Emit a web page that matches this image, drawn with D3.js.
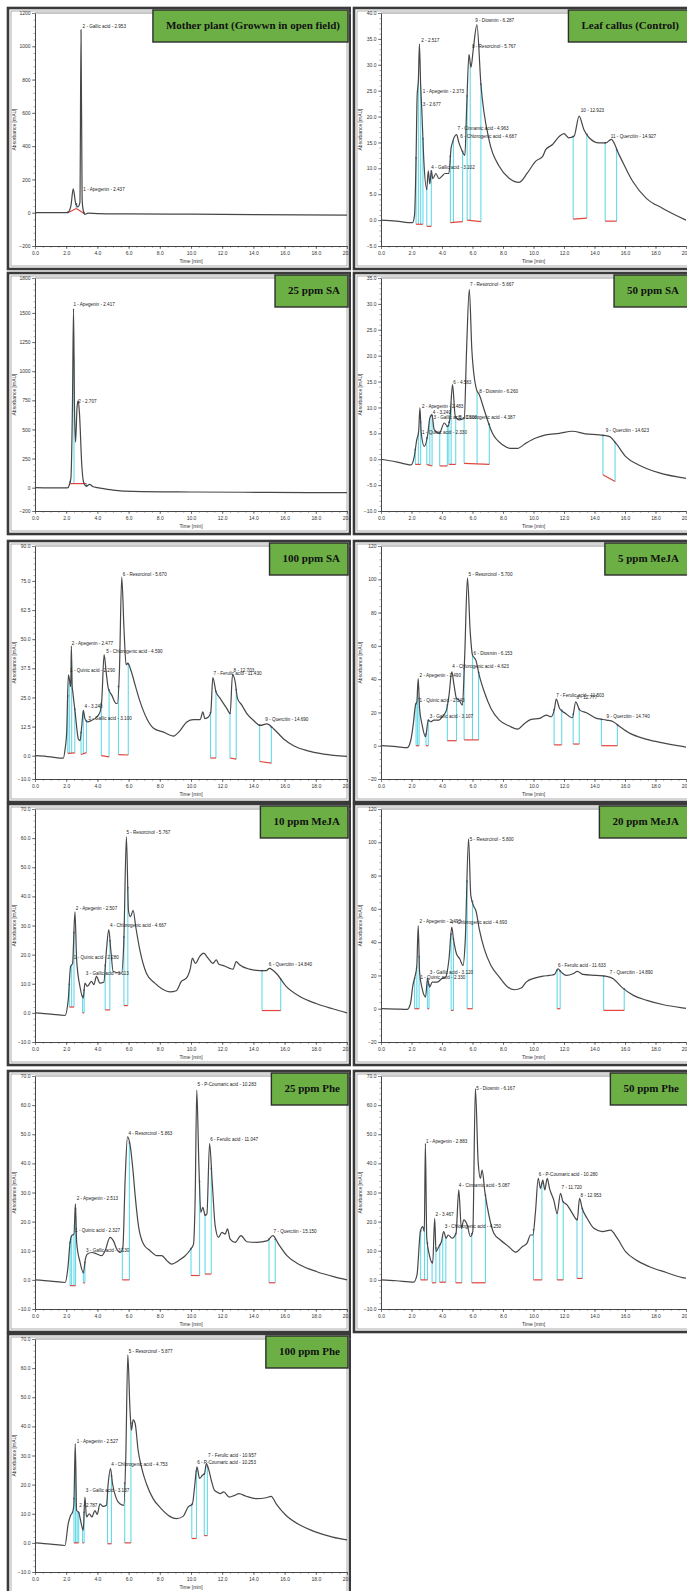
<!DOCTYPE html>
<html lang="en">
<head>
<meta charset="UTF-8">
<title>HPLC chromatograms</title>
<style>
  body { margin: 0; padding: 0; background: #fff; }
  svg { display: block; }
</style>
</head>
<body>
<script src="https://d3js.org/d3.v7.min.js"></script>
<script>
// panel titles (left/right, row by row)
const titles = ['Mother plant (Growwn in open field)', 'Leaf callus (Control)', '25 ppm SA', '50 ppm SA',
  '100 ppm SA', '5 ppm MeJA', '10 ppm MeJA', '20 ppm MeJA', '25 ppm Phe', '50 ppm Phe', '100 ppm Phe'];

// y tick labels per panel (first = axis min, last = axis max)
const yTicks = [
  [-200, 0, 200, 400, 600, 800, 1000, 1200],
  [-5, 0, 5, 10, 15, 20, 25, 30, 35, 40],
  [-200, 0, 250, 500, 750, 1000, 1250, 1500, 1800],
  [-10, -5, 0, 5, 10, 15, 20, 25, 30, 35],
  [-10, 0, 12.5, 25, 37.5, 50, 62.5, 75, 90],
  [-20, 0, 20, 40, 60, 80, 100, 120],
  [-10, 0, 10, 20, 30, 40, 50, 60, 70],
  [-20, 0, 20, 40, 60, 80, 100, 120],
  [-10, 0, 10, 20, 30, 40, 50, 60, 70],
  [-10, 0, 10, 20, 30, 40, 50, 60, 70],
  [-10, 0, 10, 20, 30, 40, 50, 60, 70]
];
const yDecimals = [0, 1, 0, 1, 1, 0, 1, 0, 1, 1, 1];
const xTicks = [0, 2, 4, 6, 8, 10, 12, 14, 16, 18, 20];

// chromatograms: [time (min), absorbance (mAU)]
const motherPlant = [[0,0],[1,0],[2,0],[2.1,2],[2.3,40],[2.45,143],[2.6,60],[2.75,35],[2.88,60],[2.95,1100],[3.02,80],
  [3.1,10],[3.2,-10],[3.4,-3],[4,-5],[6,-7],[10,-9],[14,-11],[20,-14]];
const leafCallus = [[0,0],[1,-0.2],[2.07,-0.5],[2.2,1],[2.3,12],[2.37,24],[2.45,27],[2.52,34],[2.6,26],[2.68,21],[2.8,12],
  [3,6],[3.1,9.5],[3.2,7],[3.3,9.5],[3.4,8],[3.6,9],[3.8,8],[4,8.5],[4.2,9],[4.45,9],[4.6,14],[4.69,15],[4.8,16],[4.96,16.5],
  [5.1,15],[5.3,13.5],[5.5,12.5],[5.62,22],[5.77,32],[5.9,29.5],[6.05,33],[6.29,37.7],[6.55,26.3],[7.1,15.3],[7.75,10.4],
  [8.4,8.1],[9.06,7.3],[9.6,9.1],[10.15,11.4],[10.6,12.3],[10.8,13.6],[11.25,14.6],[11.7,16.2],[12,16.7],[12.3,15.9],
  [12.66,16.2],[12.99,20.1],[13.3,17.5],[13.65,15.9],[14.3,14.9],[14.74,14.9],[15.1,15.6],[15.6,12.7],[16.5,7.5],
  [17.4,4.2],[18.45,2.3],[20,0]];
const sa25 = [[0,0],[1,-2],[2,-2],[2.12,0],[2.2,25],[2.3,80],[2.4,700],[2.47,1537],[2.53,700],[2.6,390],[2.7,700],
  [2.77,747],[2.85,640],[3,190],[3.12,45],[3.3,14],[3.5,29],[3.7,10],[4,0],[5,-20],[6.3,-32],[10,-37],[15,-40],[20,-43]];
const sa50 = [[0,0],[1,-0.5],[1.97,-1.1],[2.18,0.5],[2.34,3.7],[2.47,5.4],[2.55,9.9],[2.64,5],[2.84,2.5],[3.06,4.7],
  [3.2,7.9],[3.34,8.6],[3.49,5.7],[3.82,5],[4.15,7],[4.37,6.3],[4.52,7.9],[4.69,14.4],[4.87,8.3],[5.13,7.6],[5.46,7.9],
  [5.61,21],[5.79,32.8],[5.96,21],[6.27,13.4],[6.44,12.5],[6.77,9.5],[7.31,5],[7.97,2.8],[8.52,2.1],[8.95,2.1],[9.5,3.1],
  [10.15,4.1],[10.8,4.7],[11.7,5],[12.55,5.4],[13.4,4.9],[14.3,4.7],[14.96,4.4],[15.4,3.1],[16.05,0.5],[16.9,-1.1],
  [18.2,-2.6],[20,-3.7]];
const sa100 = [[0,0],[1,-0.5],[1.6,-1],[1.82,-1],[1.93,2.9],[2.03,10],[2.14,34.7],[2.2,33],[2.29,29.6],[2.33,47],
  [2.38,30],[2.42,27.5],[2.57,18.8],[2.78,7.2],[2.89,6.5],[3,13],[3.1,19.5],[3.2,15.9],[3.36,14.5],[3.64,15.2],[3.96,16.6],
  [4.17,18.8],[4.28,23.8],[4.43,43.4],[4.56,36],[4.7,28.9],[4.92,26],[5.2,22.4],[5.28,22.4],[5.41,36],[5.56,76.6],
  [5.71,53.5],[5.84,39],[5.95,39.7],[6.14,36.8],[6.42,30.3],[6.74,23.1],[7.17,15.9],[7.6,11.8],[8.24,10.1],[8.88,8.4],
  [9.3,10.8],[9.73,14.5],[10.16,15.5],[10.59,15.5],[10.76,18.8],[10.89,15.9],[11.12,16.6],[11.27,18.8],[11.4,33.5],
  [11.6,27.5],[11.87,24.6],[12.3,20.2],[12.51,18.1],[12.66,34.7],[12.83,31.8],[12.98,24.6],[13.26,21.7],[13.58,18.1],
  [14,15.2],[14.44,13],[14.87,13.7],[15.29,11.6],[15.94,7.2],[16.58,4.3],[17.43,2.2],[18.5,0.7],[20,-0.3]];
const meja5 = [[0,0],[1,-0.6],[1.71,-1.2],[1.93,2.4],[2.11,12.4],[2.26,24.4],[2.35,26.4],[2.44,40.4],[2.53,22.4],
  [2.7,12.4],[2.92,5.4],[3.1,15.4],[3.25,14.4],[3.47,15.4],[3.8,15.4],[4.02,17.4],[4.29,21.4],[4.46,30.4],[4.64,44.4],
  [4.79,36.4],[4.95,28.4],[5.12,27.4],[5.34,24.4],[5.49,54.4],[5.67,100.8],[5.85,68.4],[6,54.4],[6.22,51.4],[6.44,42.4],
  [6.77,32.4],[7.21,22.4],[7.76,15.4],[8.42,11.8],[8.97,10],[9.41,13.4],[9.85,15.8],[10.4,16.4],[10.84,18.4],[11.16,17.4],
  [11.38,22.4],[11.49,28],[11.71,22.4],[12.1,19.4],[12.55,16.8],[12.77,26.4],[13.03,21.4],[13.47,19.8],[14.13,16.4],
  [14.79,15.4],[15.23,14.4],[15.67,11.4],[16.33,7.4],[17.2,4.4],[18.3,2],[19.85,-0.6],[20,-0.8]];
const meja10 = [[0,0],[1,-0.4],[1.92,-0.9],[2.13,4.5],[2.28,15.9],[2.41,17],[2.56,34.7],[2.67,18.2],[2.88,9.1],[3.09,5.1],
  [3.2,10.2],[3.35,9.1],[3.62,10.8],[3.77,9.7],[3.94,12.5],[4.16,10.2],[4.41,10.5],[4.58,21.6],[4.73,28.6],[4.86,21.6],
  [5.01,14.2],[5.54,13.6],[5.69,23.9],[5.86,60.5],[5.99,35.2],[6.12,33],[6.29,35.2],[6.46,29.5],[6.72,21.6],[7.14,13.6],
  [7.68,10.2],[8.21,8],[8.64,7.2],[9.06,7.6],[9.38,10.8],[9.7,11.9],[9.96,15.3],[10.09,18.8],[10.28,17],[10.55,19.3],
  [10.81,20.5],[11.09,18.8],[11.41,17],[11.62,18.2],[11.77,16.8],[12.15,16.1],[12.47,15.3],[12.69,15],[12.9,17.6],
  [13.11,16.5],[13.75,15],[14.39,14.5],[14.82,14.5],[15.03,15.3],[15.46,13.6],[16.1,9.1],[16.95,5.7],[18.02,3.2],
  [19.08,1.4],[20,0]];
const meja20 = [[0,0],[1,-0.2],[1.71,-0.4],[1.93,3],[2.09,14],[2.22,19],[2.35,26],[2.44,50],[2.53,22],[2.7,12],[2.92,7],
  [3.05,18],[3.19,13],[3.36,16],[3.69,16],[3.98,18],[4.24,19],[4.46,30],[4.64,49],[4.75,42],[4.95,33],[5.16,30],[5.38,26],
  [5.52,40],[5.74,102],[5.89,68],[6.11,61],[6.22,59],[6.44,48],[6.77,36],[7.21,26],[7.76,19],[8.31,13],[8.75,11.4],
  [9.19,12.4],[9.52,16],[10.07,18.4],[10.62,19.6],[11.05,20],[11.38,20.6],[11.6,24],[11.82,22],[12.15,20],[12.59,21],
  [12.88,22.4],[13.25,20.6],[14.13,20],[14.79,19.4],[15.23,18],[15.78,13],[16.55,8],[17.43,5],[18.53,2.4],[19.85,0.4],
  [20,0.2]];
const phe25 = [[0,0],[1,-0.4],[1.93,-0.9],[2.1,3.7],[2.25,12.9],[2.35,15.2],[2.5,15.7],[2.59,26.1],[2.67,12.9],[2.89,6],
  [3.1,2.5],[3.23,7.1],[3.36,8.9],[3.64,9.4],[3.96,8.9],[4.28,8.3],[4.49,10],[4.81,14.6],[5.03,13.4],[5.24,10.6],[5.45,9.4],
  [5.63,11.1],[5.78,34.7],[5.93,49.1],[6.1,46.2],[6.27,38.2],[6.42,29],[6.63,18.6],[6.95,12.3],[7.38,10],[7.81,8.3],
  [8.13,8.3],[8.45,6.6],[8.77,5.4],[9.2,6.6],[9.63,8.3],[9.99,10.6],[10.16,12.3],[10.27,29],[10.37,65.2],[10.5,40.5],
  [10.63,23.2],[10.76,24.9],[10.91,22.1],[11.02,22.6],[11.19,46.8],[11.36,33.6],[11.55,18.6],[11.76,14.6],[11.98,16.3],
  [12.19,15.7],[12.34,17.5],[12.51,14],[12.83,12.9],[13.2,15.2],[13.58,13.1],[14.22,12.9],[14.87,13.4],[15.25,15.2],
  [15.61,12.3],[16.15,8.3],[17,5.1],[18.07,2.8],[19.14,1.1],[20,0]];
const phe50 = [[0,0],[1,-0.3],[2.14,-0.8],[2.36,1.7],[2.58,16.6],[2.74,18.3],[2.84,16.6],[2.91,46.9],[3,14.3],[3.17,8.6],
  [3.39,5.7],[3.52,21.1],[3.61,9.7],[3.79,11.4],[3.96,13.1],[4.11,16.6],[4.27,14.3],[4.4,15.4],[4.66,14.3],[4.92,16],
  [5.1,30.9],[5.27,17.7],[5.43,20.6],[5.65,18.9],[5.86,14.9],[6.02,16.6],[6.19,65.7],[6.37,40.6],[6.52,34.9],[6.63,37.7],
  [6.81,30.3],[7.07,22.3],[7.4,16],[7.83,13.7],[8.38,11.4],[8.82,9.5],[9.26,11.4],[9.58,12.6],[9.8,15.4],[9.96,15.4],
  [10.13,23.4],[10.31,34.9],[10.46,31.4],[10.61,34.3],[10.74,30.9],[10.9,34.9],[11.05,31.4],[11.33,27.4],[11.55,22.9],
  [11.77,29.7],[11.93,26.9],[12.21,25.7],[12.54,22.9],[12.87,20.6],[13.02,28],[13.19,24.6],[13.52,21.1],[13.96,17.7],
  [14.51,16.6],[15.05,17.1],[15.49,14.3],[16.04,9.7],[16.7,6.9],[17.57,4.6],[18.67,2.6],[19.76,0.8],[20,0.6]];
const phe100 = [[0,0],[1,-0.4],[1.92,-0.9],[2.13,6.6],[2.28,9.4],[2.41,10.6],[2.49,12.9],[2.58,34.1],[2.67,11.1],
  [2.79,10.6],[2.99,6],[3.09,4.3],[3.2,15.7],[3.3,8.9],[3.48,10],[3.65,8.9],[3.84,11.1],[3.99,9.8],[4.16,13.4],[4.37,12.5],
  [4.58,12.9],[4.69,20.3],[4.84,25.5],[4.97,20.3],[5.18,15.7],[5.44,13.4],[5.69,12.9],[5.82,29.5],[5.95,64.6],[6.08,46.8],
  [6.18,38.7],[6.29,42.2],[6.42,41],[6.61,31.8],[6.82,26.1],[7.14,20.3],[7.57,15.2],[8.1,11.7],[8.64,9.1],[9.06,8.3],
  [9.49,9.1],[9.81,12.3],[10.09,13.4],[10.23,19.2],[10.38,26.1],[10.55,22.1],[10.73,23.2],[10.87,23.8],[10.98,27.2],
  [11.15,24.9],[11.3,21.5],[11.51,18],[11.66,17.5],[11.88,16.9],[12.09,17.5],[12.47,15.7],[12.79,16.3],[13.07,16.9],
  [13.54,16],[14.18,15.2],[14.82,15.5],[15.14,16],[15.46,13.4],[16.1,9.4],[16.95,6.2],[18.02,3.7],[19.08,2],[20,1]];
const traces = [motherPlant, leafCallus, sa25, sa50, sa100, meja5, meja10, meja20, phe25, phe50, phe100];

// peak labels: [time, absorbance, text]
const peakLabels = [
  [[3.1, 143, '1 - Apegenin - 2.437'], [3.05, 1120, '2 - Gallic acid - 2.953']],
  [[2.64, 34.7, '2 - 2.517'], [2.73, 24.9, '1 - Apegenin - 2.373'], [2.73, 22.3, '3 - 2.677'],
   [3.3, 10.2, '4 - Gallic acid - 3.102'], [5.02, 17.7, '7 - Cinnamic acid - 4.963'],
   [5.2, 16.2, '6 - Chlorogenic acid - 4.687'], [6.18, 38.6, '9 - Diosmin - 6.287'],
   [5.96, 33.6, '8 - Resorcinol - 5.767'], [13.1, 21.1, '10 - 12.923'], [15.07, 16.2, '11 - Quercitin - 14.927']],
  [[2.46, 1572, '1 - Apegenin - 2.417'], [2.78, 738, '2 - 2.707']],
  [[2.69, 10.2, '2 - Apegenin - 2.483'], [2.69, 5.2, '1 - Quinic acid - 2.330'], [3.4, 9.0, '4 - 3.240'],
   [3.45, 8.0, '3 - Gallic acid - 3.100'], [5.1, 8.1, '5 - Chlorogenic acid - 4.387'], [4.74, 14.8, '6 - 4.583'],
   [5.83, 33.7, '7 - Resorcinol - 5.667'], [6.44, 13.1, '8 - Diosmin - 6.260'], [14.74, 5.5, '9 - Quercitin - 14.623']],
  [[2.35, 48.4, '2 - Apegenin - 2.477'], [2.25, 36.6, '1 - Quinic acid - 2.290'], [3.17, 21.2, '4 - 3.240'],
   [3.42, 15.9, '3 - Gallic acid - 3.100'], [4.56, 44.8, '5 - Chlorogenic acid - 4.590'],
   [5.63, 78, '6 - Resorcinol - 5.670'], [11.45, 35.4, '7 - Ferulic acid - 11.430'], [12.73, 36.4, '8 - 12.703'],
   [14.76, 15.5, '9 - Quercitin - 14.690']],
  [[2.53, 42.4, '2 - Apegenin - 2.490'], [2.53, 27.4, '1 - Quinic acid - 2.343'], [3.19, 17.4, '3 - Gallic acid - 3.107'],
   [4.68, 47.8, '4 - Chlorogenic acid - 4.623'], [5.74, 102.8, '5 - Resorcinol - 5.700'], [6.07, 55.4, '6 - Diosmin - 6.153'],
   [11.49, 30.4, '7 - Ferulic acid - 11.503'], [12.82, 28.8, '8 - 12.777'], [14.79, 17.4, '9 - Quercitin - 14.740']],
  [[2.62, 36, '2 - Apegenin - 2.507'], [2.49, 19, '1 - Quinic acid - 2.280'], [3.26, 13.6, '3 - Gallic acid - 3.113'],
   [4.8, 30.1, '4 - Chlorogenic acid - 4.667'], [5.86, 62, '5 - Resorcinol - 5.767'], [14.99, 16.8, '6 - Quercitin - 14.840']],
  [[2.53, 52.4, '2 - Apegenin - 2.493'], [4.57, 52, '4 - Chlorogenic acid - 4.693'], [2.59, 19, '1 - Quinic acid - 2.330'],
   [3.19, 22, '3 - Gallic acid - 3.120'], [5.82, 102, '5 - Resorcinol - 5.800'], [11.6, 26, '6 - Ferulic acid - 11.633'],
   [15.0, 21.6, '7 - Quercitin - 14.890']],
  [[2.67, 28, '2 - Apegenin - 2.513'], [2.57, 16.9, '1 - Quinic acid - 2.327'], [3.27, 10, '3 - Gallic acid - 3.130'],
   [5.99, 50.2, '4 - Resorcinol - 5.863'], [10.42, 67.1, '5 - P-Coumaric acid - 10.283'],
   [11.23, 48.2, '6 - Ferulic acid - 11.047'], [15.29, 16.6, '7 - Quercitin - 15.150']],
  [[2.95, 47.4, '1 - Apegenin - 2.883'], [3.57, 22.5, '2 - 3.467'], [4.18, 18.3, '3 - Chlorogenic acid - 4.250'],
   [5.1, 32.3, '4 - Cinnamic acid - 5.087'], [6.24, 65.9, '5 - Diosmin - 6.167'], [10.35, 36.2, '6 - P-Coumaric acid - 10.280'],
   [11.84, 31.7, '7 - 11.720'], [13.09, 29.1, '8 - 12.953']],
  [[2.67, 35, '1 - Apegenin - 2.527'], [2.84, 12.9, '2 - 2.787'], [3.26, 18, '3 - Gallic acid - 3.137'],
   [4.88, 27, '4 - Chlorogenic acid - 4.753'], [6.01, 65.7, '5 - Resorcinol - 5.877'],
   [11.09, 30.1, '7 - Ferulic acid - 10.957'], [10.4, 27.8, '6 - P-Coumaric acid - 10.253']]
];

// integration windows: [start, end, baseline at start, baseline at end, ...split times]
const integrations = [
  [[2.1, 2.65, 0, 25], [2.65, 3.15, 25, -5]],
  [[2.3, 2.75, -0.8, -0.8, 2.45, 2.6], [3.0, 3.3, -1.2, -1.2], [4.55, 5.35, -0.5, -0.3, 4.75], [5.65, 6.55, 0, -0.3, 5.85],
   [12.6, 13.5, 0.2, 0.4], [14.7, 15.45, -0.2, -0.2]],
  [[2.25, 3.3, 35, 35, 2.5]],
  [[2.25, 2.6, -1, -1, 2.45], [3.0, 3.35, -1, -1.3, 3.2], [3.85, 4.35, -1.3, -1.3], [4.45, 4.9, -1, -1, 4.6],
   [5.45, 7.1, -0.8, -1.0, 6.3], [14.55, 15.35, -3, -4.3]],
  [[2.1, 2.55, 1, 1.2, 2.2, 2.35], [2.95, 3.3, 0.5, 1.3, 3.1], [4.25, 4.75, 0, -0.5], [5.35, 5.98, 0.5, 0.3],
   [11.25, 11.6, -1, -1], [12.5, 12.9, -1, -1.5], [14.4, 15.15, -2.5, -3.2]],
  [[2.3, 2.5, 0, 0, 2.4], [2.95, 3.1, 0, 0], [4.35, 4.95, 3, 3], [5.45, 6.4, 3.5, 3.5, 6.0], [11.35, 11.85, 0.5, 0.5],
   [12.6, 13.0, 1, 1], [14.45, 15.5, 0, 0]],
  [[2.2, 2.5, 2, 2, 2.35], [3.05, 3.15, 0, 0], [4.5, 4.8, 1, 1], [5.7, 5.95, 2.5, 2.5], [14.55, 15.75, 0.8, 0.8]],
  [[2.2, 2.5, 0, 0, 2.35], [3.05, 3.15, 0, 0], [4.6, 4.75, -1, -1], [5.65, 6.0, 0, 0], [11.55, 11.75, 0, 0],
   [14.6, 15.95, -1, -1]],
  [[2.25, 2.6, -2, -2, 2.35, 2.5], [3.1, 3.2, -1, -1], [5.6, 6.05, 0, 0], [10.0, 10.55, 1.5, 1.5], [10.9, 11.3, 2, 2],
   [15.0, 15.4, -1, -1]],
  [[2.6, 3.05, 0, 0, 2.85], [3.35, 3.6, -1, -1], [3.85, 4.25, -0.8, -0.8, 4.05], [4.9, 5.3, -1, -1], [5.95, 6.85, -1, -1],
   [10.0, 10.55, 0, 0], [11.55, 11.95, 0, 0], [12.85, 13.2, 0.5, 0.5]],
  [[2.5, 2.8, 0, 0, 2.6, 2.7], [3.05, 3.15, 0, 0], [4.65, 4.9, -0.3, -0.3], [5.75, 6.15, 0, 0], [10.05, 10.35, 1.5, 1.5],
   [10.85, 11.05, 2.5, 2.5]]
];

const width = 687, height = 1591;
const svg = d3.select('body').append('svg').attr('width', width).attr('height', height);
const defs = svg.append('defs');

// layout of the screenshot grid
const rowTops = [8, 273, 541, 804, 1071, 1334];
const frameH = 261;
const cols = [
  { fx: 8, fw: 342, clipX: 5, clipW: 346, x0: 35, x1: 347, textEnd: 340, boxRight: 348 },
  { fx: 354, fw: 345, clipX: 352, clipW: 340, x0: 381, x1: 686, textEnd: 679, boxRight: 700 }
];
const sans = 'Liberation Sans, Arial, sans-serif';

// value of the trace at time t (for drawing integration marks)
function valAt(data, t) {
  const i = d3.bisector(d => d[0]).right(data, t);
  if (i <= 0) return data[0][1];
  if (i >= data.length) return data[data.length - 1][1];
  const a = data[i - 1], b = data[i];
  return a[1] + (b[1] - a[1]) * (t - a[0]) / (b[0] - a[0]);
}

traces.forEach((data, i) => {
  const c = cols[i % 2];
  const top = rowTops[Math.floor(i / 2)];
  const ticks = yTicks[i];
  const yMin = ticks[0], yMax = ticks[ticks.length - 1];
  const step = ticks[ticks.length - 2] - ticks[ticks.length - 3];

  defs.append('clipPath').attr('id', 'clip' + i)
    .append('rect').attr('x', c.clipX).attr('y', top - 3).attr('width', c.clipW).attr('height', frameH + 6);
  const g = svg.append('g').attr('clip-path', `url(#clip${i})`);

  // screenshot frame
  g.append('rect').attr('x', c.fx).attr('y', top).attr('width', c.fw).attr('height', frameH)
    .attr('fill', '#fff').attr('stroke', '#3a3a3a').attr('stroke-width', 2.6);
  g.append('rect').attr('x', c.fx + 3).attr('y', top + 3).attr('width', c.fw - 6).attr('height', frameH - 6)
    .attr('fill', 'none').attr('stroke', '#9a9a9a').attr('stroke-width', 0.8);

  const x = d3.scaleLinear().domain([0, 20]).range([c.x0, c.x1]);
  const y = d3.scaleLinear().domain([yMin, yMax]).range([top + 238, top + 5]);

  // top border of plot
  g.append('line').attr('x1', c.x0).attr('x2', c.x1 + 10).attr('y1', y(yMax)).attr('y2', y(yMax))
    .attr('stroke', '#777').attr('stroke-width', 0.8);

  // y axis
  const minor = step / 5;
  const yMinor = d3.range(Math.ceil(yMin / minor) * minor, yMax, minor);
  g.append('g').attr('transform', `translate(${c.x0},0)`)
    .call(d3.axisLeft(y).tickValues(yMinor).tickSize(1.5).tickSizeOuter(0).tickFormat(''))
    .call(a => a.select('.domain').remove())
    .call(a => a.selectAll('line').attr('stroke', '#555').attr('stroke-width', 0.5));
  g.append('g').attr('transform', `translate(${c.x0},0)`)
    .call(d3.axisLeft(y).tickValues(ticks).tickSize(3).tickSizeOuter(0).tickPadding(1.5)
      .tickFormat(d => d3.format(yDecimals[i] ? '.1f' : 'd')(d)))
    .call(a => a.select('.domain').attr('stroke', '#333').attr('stroke-width', 0.9))
    .call(a => a.selectAll('line').attr('stroke', '#333').attr('stroke-width', 0.6))
    .call(a => a.selectAll('text').attr('font-size', 5).attr('font-family', sans).attr('fill', '#333'));

  // x axis
  const xAxisY = y(yMin);
  g.append('g').attr('transform', `translate(0,${xAxisY})`)
    .call(d3.axisBottom(x).tickValues(d3.range(0.5, 20, 0.5)).tickSize(1.8).tickSizeOuter(0).tickFormat(''))
    .call(a => a.select('.domain').remove())
    .call(a => a.selectAll('line').attr('stroke', '#555').attr('stroke-width', 0.5));
  g.append('g').attr('transform', `translate(0,${xAxisY})`)
    .call(d3.axisBottom(x).tickValues(xTicks).tickSize(3).tickSizeOuter(0).tickPadding(2)
      .tickFormat(d3.format('.1f')))
    .call(a => a.select('.domain').attr('stroke', '#333').attr('stroke-width', 0.9))
    .call(a => a.selectAll('line').attr('stroke', '#333').attr('stroke-width', 0.6))
    .call(a => a.selectAll('text').attr('font-size', 5).attr('font-family', sans).attr('fill', '#333'));

  // axis titles
  g.append('text').attr('transform', `translate(${c.fx + 8},${(y(yMin) + y(yMax)) / 2}) rotate(-90)`)
    .attr('text-anchor', 'middle').attr('font-size', 5).attr('font-family', sans).attr('fill', '#333')
    .text('Absorbance [mAU]');
  g.append('text').attr('x', (c.x0 + c.x1) / 2).attr('y', top + 255)
    .attr('text-anchor', 'middle').attr('font-size', 5).attr('font-family', sans).attr('fill', '#333')
    .text('Time [min]');

  // integration marks
  const marks = g.append('g');
  integrations[i].forEach(w => {
    const [t1, t2, b1, b2, ...splits] = w;
    [t1, t2, ...splits].forEach(t => {
      const base = b1 + (b2 - b1) * (t - t1) / (t2 - t1);
      marks.append('line').attr('x1', x(t)).attr('x2', x(t)).attr('y1', y(base)).attr('y2', y(valAt(data, t)))
        .attr('stroke', '#66d9e8').attr('stroke-width', 1.1);
    });
    marks.append('line').attr('x1', x(t1)).attr('x2', x(t2)).attr('y1', y(b1)).attr('y2', y(b2))
      .attr('stroke', '#e3443c').attr('stroke-width', 1.2);
  });

  // chromatogram trace
  g.append('path').datum(data)
    .attr('d', d3.line().x(d => x(d[0])).y(d => y(d[1])).curve(d3.curveMonotoneX))
    .attr('fill', 'none').attr('stroke', '#474747').attr('stroke-width', 1.2).attr('stroke-linejoin', 'round');

  // peak boundary markers
  integrations[i].forEach(w => {
    [w[0], w[1]].forEach(t => {
      marks.append('circle').attr('cx', x(t)).attr('cy', y(valAt(data, t))).attr('r', 0.9)
        .attr('fill', '#3344b0').attr('opacity', 0.75);
    });
  });

  // peak labels
  g.append('g').selectAll('text').data(peakLabels[i]).join('text')
    .attr('x', d => x(d[0])).attr('y', d => y(d[1])).attr('dy', '0.35em')
    .attr('font-size', 4.6).attr('font-family', sans).attr('fill', '#222')
    .text(d => d[2]);

  // green title box
  const title = g.append('text').attr('x', c.textEnd).attr('y', top + 21).attr('text-anchor', 'end')
    .attr('font-size', 11).attr('font-weight', 'bold').attr('font-family', 'Liberation Serif, Times New Roman, serif')
    .attr('fill', '#111').text(titles[i]);
  const tw = title.node().getComputedTextLength();
  g.insert('rect', () => title.node())
    .attr('x', c.textEnd - tw - 13).attr('y', top + 2).attr('width', c.boxRight - (c.textEnd - tw - 13)).attr('height', 32)
    .attr('fill', '#6cb045').attr('stroke', '#2e2e2e').attr('stroke-width', 1.4);
});
</script>
</body>
</html>
